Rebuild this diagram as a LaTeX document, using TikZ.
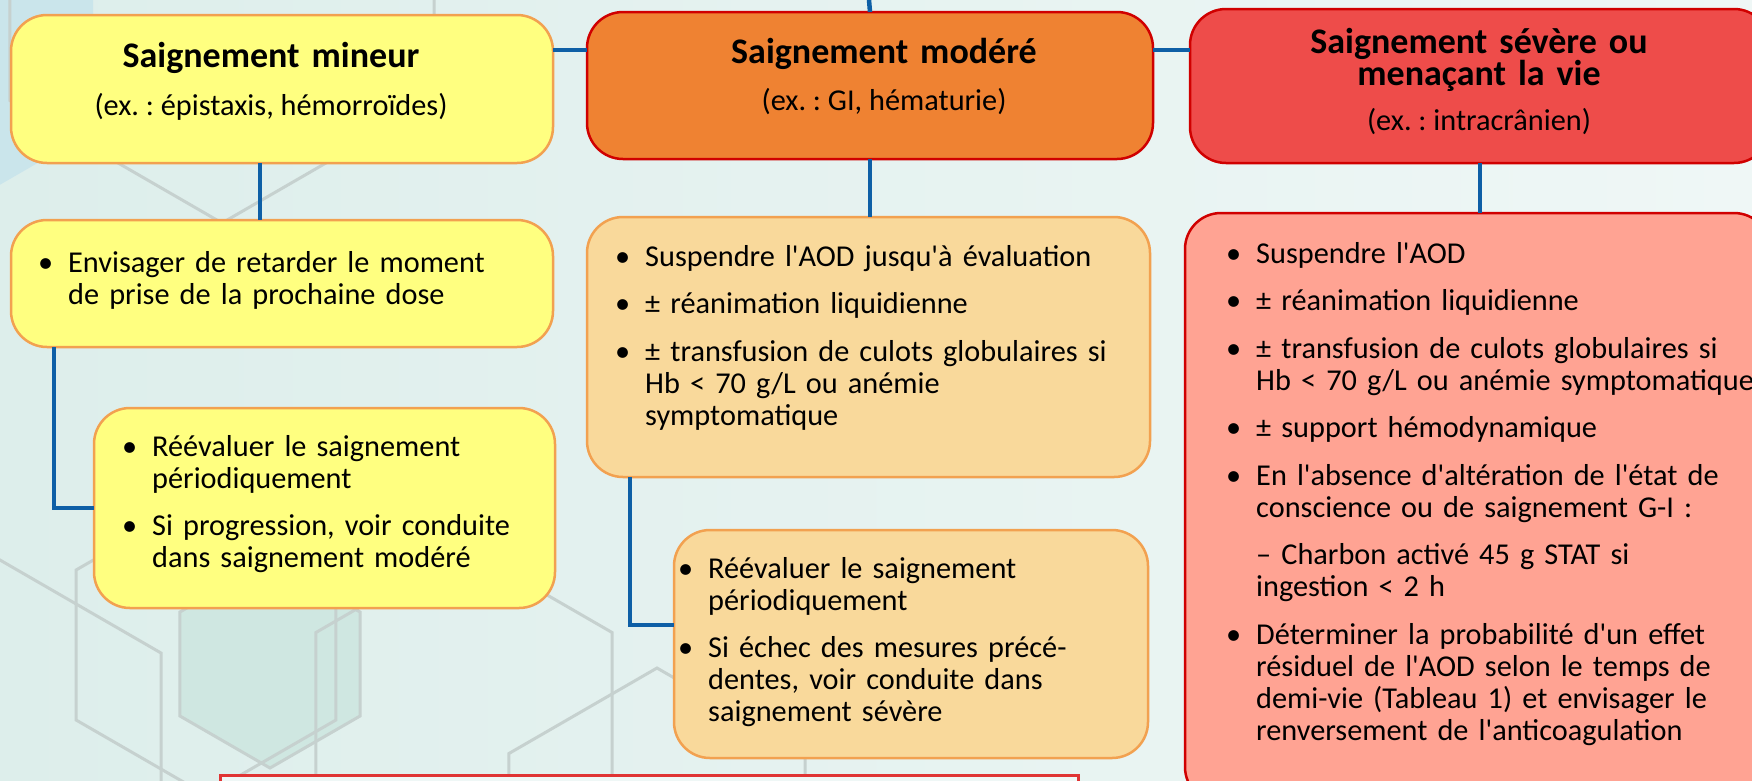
\documentclass[tikz,border=0pt]{standalone}
\usepackage{fontspec}
\setmainfont{Carlito}[Ligatures=TeXOff]
\usetikzlibrary{calc}
\definecolor{bgL}{HTML}{DDEEEB}
\definecolor{bgR}{HTML}{EFF7F6}
\definecolor{hexc}{HTML}{C6D1CF}
\definecolor{hexblue}{HTML}{CAE5EB}
\definecolor{hexteal}{HTML}{CFE7E1}
\definecolor{linkc}{HTML}{0E5FA6}
\definecolor{yfill}{HTML}{FFFF80}
\definecolor{yline}{HTML}{F2A150}
\definecolor{ofill}{HTML}{EF8232}
\definecolor{rline}{HTML}{D00000}
\definecolor{rfill}{HTML}{EE4C4A}
\definecolor{ofillb}{HTML}{F9D99B}
\definecolor{rfillb}{HTML}{FFA393}
\definecolor{botline}{HTML}{E03434}
\newcommand\bul{\leavevmode\llap{\textbullet\hspace{15pt}}}
\newcommand\hexag[4]{\path[#4] (#1,#2) +(90:#3) -- +(30:#3) -- +(-30:#3) -- +(-90:#3) -- +(-150:#3) -- +(150:#3) -- cycle;}
\tikzset{
  box/.style={draw, line width=2.5pt, rounded corners=36pt, inner sep=0pt, outer sep=0pt, anchor=north west},
  ybox/.style={box, fill=yfill, draw=yline},
  obox/.style={box, fill=ofill, draw=rline},
  rbox/.style={box, fill=rfill, draw=rline},
  obbox/.style={box, fill=ofillb, draw=yline},
  rbbox/.style={box, fill=rfillb, draw=rline},
  link/.style={draw=linkc, line width=4.5pt},
  body/.style={anchor=base west, inner sep=0pt, text width=620pt, align=left, font=\frenchspacing\fontsize{30.3}{32}\selectfont},
  ttl/.style={anchor=base, inner sep=0pt, text width=560pt, align=center, font=\frenchspacing\bfseries\fontsize{36}{32}\selectfont},
  subt/.style={anchor=base, inner sep=0pt, font=\frenchspacing\fontsize{30.3}{32}\selectfont},
  hexl/.style={draw=hexc, line width=3pt},
}
\begin{document}
\frenchspacing
\begin{tikzpicture}[x=1pt,y=-1pt]
\useasboundingbox (0,0) rectangle (1752,780);
\clip (0,0) rectangle (1752,780);
% background
\fill[left color=bgL, right color=bgR] (0,0) rectangle (1752,780);
\hexag{-120}{8}{246}{fill=hexblue}
\hexag{270}{664}{104}{fill=hexteal}
\hexag{222}{-22}{245}{hexl}
\hexag{-3.5}{748}{190}{hexl}
\hexag{206}{645}{150}{hexl}
\hexag{270}{664}{104}{hexl}
\hexag{464}{718}{171}{hexl}
\hexag{657}{839}{171}{hexl}
% boxes
\node[ybox, minimum width=542pt, minimum height=148pt] (y1) at (11,15) {};
\node[obox, minimum width=566pt, minimum height=147pt] (o1) at (587,12) {};
\node[rbox, minimum width=580pt, minimum height=154pt] (r1) at (1190,9) {};
\node[ybox, minimum width=542pt, minimum height=127pt] (y2) at (11,220) {};
\node[ybox, minimum width=461pt, minimum height=200pt] (y3) at (94,408) {};
\node[obbox, minimum width=563pt, minimum height=260pt] (o2) at (587,217) {};
\node[obbox, minimum width=474pt, minimum height=228pt] (o3) at (674,530) {};
\node[rbbox, minimum width=585pt, minimum height=590pt] (r2) at (1185,213) {};
\node[draw=botline, line width=3pt, fill=bgR, inner sep=0pt, outer sep=0pt, anchor=north west, minimum width=858pt, minimum height=40pt] (bot) at (220,775) {};
% connectors
\coordinate (top) at (869,0);
\draw[link] (top) -- (o1.north);
\draw[link] ([yshift=39pt]y1.east) -- ([yshift=39pt]y1.east -| o1.west);
\draw[link] ([yshift=35.5pt]o1.east) -- ([yshift=35.5pt]o1.east -| r1.west);
\draw[link] ([xshift=249pt]y1.south west) -- ([xshift=249pt]y2.north west);
\draw[link] (o1.south) -- (o1.south |- o2.north);
\draw[link] (r1.south) -- (r1.south |- r2.north);
\draw[link] ([xshift=43pt]y2.south west) |- (y3.west);
\draw[link] ([xshift=43pt]o2.south west) |- ([yshift=19pt]o3.west);
% titles
\node[ttl] (y1t) at (271,67) {Saignement mineur};
\node[subt] (y1s) at (271,115) {(ex. : épistaxis, hémorroïdes)};
\node[ttl] (o1t) at (884,63) {Saignement modéré};
\node[subt] (o1s) at (884,110) {(ex. : GI, hématurie)};
\node[ttl] (r1t) at (1479,53) {Saignement sévère ou\\ menaçant la vie};
\node[subt] (r1s) at (1479,130) {(ex. : intracrânien)};
% body texts
\node[body] (y2t) at (68,272) {\bul Envisager de retarder le moment\\ de prise de la prochaine dose};
\node[body] (y3t) at (152,456) {\bul Réévaluer le saignement\\ périodiquement\\[15.5pt] \bul Si progression, voir conduite\\ dans saignement modéré};
\node[body] (o2t) at (645,266) {\bul Suspendre l'AOD jusqu'à évaluation\\[15.5pt] \bul ± réanimation liquidienne\\[15.5pt] \bul ± transfusion de culots globulaires si\\ Hb < 70 g/L ou anémie\\ symptomatique};
\node[body] (o3t) at (708,578) {\bul Réévaluer le saignement\\ périodiquement\\[15.5pt] \bul Si échec des mesures précé-\\ dentes, voir conduite dans\\ saignement sévère};
\node[body] (r2t) at (1256,263) {\bul Suspendre l'AOD\\[15.5pt] \bul ± réanimation liquidienne\\[15.5pt] \bul ± transfusion de culots globulaires si\\ Hb < 70 g/L ou anémie symptomatique\\[15.5pt] \bul ± support hémodynamique\\[15.5pt] \bul En l'absence d'altération de l'état de\\ conscience ou de saignement G-I :\\[15.5pt] – Charbon activé 45 g STAT si\\ ingestion < 2 h\\[15.5pt] \bul Déterminer la probabilité d'un effet\\ résiduel de l'AOD selon le temps de\\ demi-vie (Tableau 1) et envisager le\\ renversement de l'anticoagulation};
\end{tikzpicture}
\end{document}
